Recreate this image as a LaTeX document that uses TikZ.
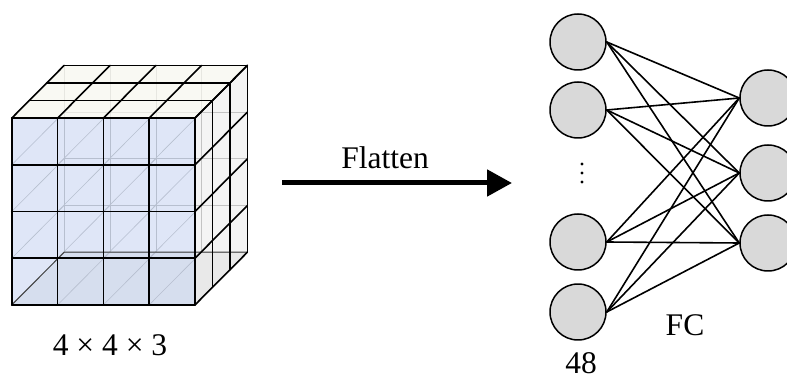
\documentclass[tikz,border=0pt]{standalone}
\usepackage{fontspec}
\setmainfont{Liberation Serif}
\usetikzlibrary{arrows.meta}
\definecolor{face}{HTML}{C4D2F0}
\definecolor{side}{HTML}{E6E6E6}
\definecolor{topface}{HTML}{F7F7F0}
\definecolor{hidden}{HTML}{A8A8A8}
\definecolor{neuronfill}{HTML}{D9D9D9}

\tikzset{
  neuron/.style={circle,draw=black,line width=1.5pt,fill=neuronfill,
                 minimum size=56pt,inner sep=0pt},
  lbl/.style={anchor=base,inner sep=0pt},
  cubeline/.style={black,line width=1.6pt},
  hiddenline/.style={hidden,line width=.6pt},
}

\begin{document}
\begin{tikzpicture}[x=1pt,y=-1pt,font=\fontsize{31.5}{36}\selectfont,
                    line cap=round,line join=round]
  \useasboundingbox (0,0) rectangle (787,387);

  % Feature map cube 4 x 4 x 3.
  \begin{scope}[shift={(11.7,305)},x={(45.8pt,0pt)},y={(0pt,46.7pt)},
                z={(17.5pt,17.6pt)}]
    \fill[gray!30,fill opacity=.5] (0,0,0)--(4,0,0)--(4,0,3)--(0,0,3)--cycle;
    \foreach \i in {0,...,4}
      \foreach \j in {0,...,4}
        \draw[hiddenline] (\i,\j,0)--(\i,\j,3);
    \foreach \i in {0,...,4}{
      \draw[hiddenline] (\i,0,3)--(\i,4,3);
      \draw[hiddenline] (0,\i,3)--(4,\i,3);
    }
    \fill[face,fill opacity=.55] (0,0,0)--(4,0,0)--(4,4,0)--(0,4,0)--cycle;
    \fill[topface,fill opacity=.8] (0,4,0)--(4,4,0)--(4,4,3)--(0,4,3)--cycle;
    \fill[side,fill opacity=.45] (4,0,0)--(4,4,0)--(4,4,3)--(4,0,3)--cycle;
    \draw[gray!50!black,line width=1pt] (0,0,0)--(0,0,3)--(4,0,3);
    \foreach \i in {0,...,4}{
      \draw[cubeline] (\i,0,0)--(\i,4,0);
      \draw[cubeline] (0,\i,0)--(4,\i,0);
      \draw[cubeline] (\i,4,0)--(\i,4,3);
      \draw[cubeline] (4,\i,0)--(4,\i,3);
    }
    \foreach \k in {1,...,3}{
      \draw[cubeline] (0,4,\k)--(4,4,\k);
      \draw[cubeline] (4,0,\k)--(4,4,\k);
    }
  \end{scope}
  \node[lbl] (size) at (110,355) {4 × 4 × 3};

  % Flatten arrow.
  \coordinate (fstart) at (282,183);
  \coordinate (fend) at (512,183);
  \draw[line width=5pt,line cap=butt,-{Triangle[length=25pt,width=26pt]}]
    (fstart)--(fend);
  \node[lbl] (flat) at (385,169) {Flatten};

  % Fully connected layer.
  \node[neuron] (in1) at (578,42) {};
  \node[neuron] (in2) at (578,110) {};
  \node[neuron] (in3) at (578,242) {};
  \node[neuron] (in4) at (578,312) {};
  \foreach \y in {164,173,182}
    \fill (582,\y) circle (1.7);
  \node[neuron] (out1) at (768,98) {};
  \node[neuron] (out2) at (768,173) {};
  \node[neuron] (out3) at (768,243) {};
  \foreach \a in {in1,in2,in3,in4}
    \foreach \b in {out1,out2,out3}
      \draw[line width=1.6pt] (\a.east)--(\b.west);
  \node[lbl] (fc) at (685,335) {FC};
  \node[lbl] (count) at (581,373) {48};
\end{tikzpicture}
\end{document}
